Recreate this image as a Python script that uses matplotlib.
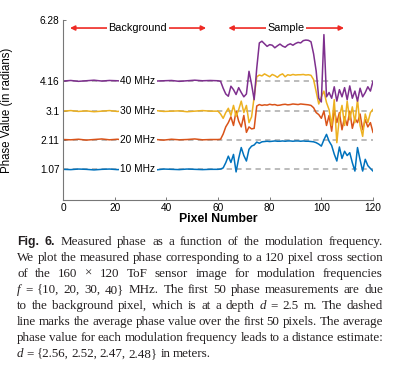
import matplotlib
matplotlib.use('Agg')
import matplotlib.pyplot as plt
import numpy as np

# pixel positions: every 3rd pixel over the flat background, then every pixel
pixels = list(range(0, 61, 3)) + list(range(61, 121))

phase_40 = [4.15, 4.17, 4.14, 4.16, 4.18, 4.15, 4.17, 4.16, 4.14, 4.17, 4.16,
            4.18, 4.15, 4.16, 4.17, 4.14, 4.16, 4.18, 4.16, 4.17, 4.16,
            4.14, 3.90, 3.70, 3.62, 3.97, 3.85, 3.68, 3.92, 3.75, 3.60,
            3.70, 4.49, 4.03, 3.50, 4.60, 5.48, 5.54, 5.45, 5.36, 5.42,
            5.40, 5.31, 5.38, 5.44, 5.37, 5.33, 5.41, 5.45, 5.40, 5.46,
            5.50, 5.48, 5.56, 5.58, 5.57, 5.52, 5.10, 4.50, 3.55, 3.42,
            5.77, 3.60, 3.75, 3.55, 3.95, 3.45, 3.85, 3.60, 3.92, 3.50,
            3.98, 3.55, 3.80, 3.45, 3.90, 3.60, 3.75, 3.95, 3.80, 4.14]
phase_30 = [3.10, 3.12, 3.09, 3.11, 3.08, 3.10, 3.12, 3.09, 3.11, 3.10, 3.08,
            3.11, 3.12, 3.09, 3.10, 3.11, 3.08, 3.10, 3.12, 3.10, 3.10,
            3.00, 2.85, 3.05, 3.20, 2.95, 3.30, 2.92, 3.15, 3.45, 3.05,
            3.30, 2.70, 2.90, 3.60, 4.30, 4.36, 4.33, 4.40, 4.35, 4.30,
            4.38, 4.34, 4.28, 4.36, 4.40, 4.30, 4.37, 4.35, 4.38, 4.36,
            4.37, 4.37, 4.38, 4.36, 4.37, 4.35, 4.20, 3.78, 3.35, 3.60,
            3.80, 3.40, 3.15, 2.60, 3.50, 2.00, 2.90, 3.30, 2.60, 3.45,
            2.80, 3.25, 2.70, 3.50, 2.60, 2.22, 3.00, 2.70, 3.05, 3.16]
phase_20 = [2.11, 2.10, 2.12, 2.09, 2.11, 2.13, 2.10, 2.12, 2.09, 2.11, 2.10,
            2.12, 2.11, 2.09, 2.12, 2.10, 2.11, 2.13, 2.10, 2.11, 2.11,
            2.12, 2.30, 2.55, 2.70, 2.90, 2.60, 3.10, 2.75, 2.55, 2.95,
            2.36, 2.55, 2.48, 2.50, 3.28, 3.33, 3.30, 3.32, 3.31, 3.34,
            3.32, 3.33, 3.30, 3.31, 3.33, 3.34, 3.32, 3.33, 3.35, 3.34,
            3.33, 3.35, 3.34, 3.33, 3.32, 3.30, 3.22, 3.05, 2.98, 2.85,
            3.10, 2.60, 2.95, 2.40, 3.15, 2.70, 3.05, 2.45, 2.90, 2.60,
            3.10, 2.50, 2.85, 2.70, 3.00, 2.45, 2.80, 2.55, 2.70, 2.36]
phase_10 = [1.07, 1.06, 1.08, 1.07, 1.05, 1.07, 1.08, 1.06, 1.07, 1.08, 1.06,
            1.07, 1.05, 1.08, 1.07, 1.06, 1.08, 1.07, 1.06, 1.07, 1.07,
            1.08, 1.12, 1.30, 1.53, 1.31, 1.59, 0.98, 1.45, 1.83, 1.55,
            1.36, 1.77, 1.88, 1.92, 2.02, 1.98, 2.03, 2.04, 2.05, 2.04,
            2.05, 2.06, 2.05, 2.05, 2.06, 2.05, 2.06, 2.06, 2.05, 2.06,
            2.06, 2.05, 2.06, 2.05, 2.05, 2.04, 2.03, 2.00, 1.95, 1.88,
            2.10, 2.29, 2.05, 1.90, 1.60, 1.36, 1.85, 1.45, 1.70, 1.55,
            1.65, 1.30, 1.01, 1.83, 1.40, 1.01, 1.42, 1.20, 1.10, 1.01]

freq_labels = ['10 MHz', '20 MHz', '30 MHz', '40 MHz']
mean_phase = [1.07, 2.11, 3.1, 4.16]
y_ticks = [1.07, 2.11, 3.1, 4.16, 6.28]
x_ticks = [0, 20, 40, 60, 80, 100, 120]
background_span = (2.7, 55.4)
sample_span = (64.0, 108.8)

caption = [
    "#Fig. #6. Measured phase as a function of the modulation frequency.",
    "We plot the measured phase corresponding to a 120 pixel cross section",
    "of the 160 × 120 ToF sensor image for modulation frequencies",
    "*f = {10, 20, 30, 40} MHz. The first 50 phase measurements are due",
    "to the background pixel, which is at a depth *d = 2.5 m. The dashed",
    "line marks the average phase value over the first 50 pixels. The average",
    "phase value for each modulation frequency leads to a distance estimate:",
    "*d = {2.56, 2.52, 2.47, 2.48} in meters.",
]

colors = ['#0072BD', '#D95319', '#EDB120', '#7E2F8E']
series = [phase_10, phase_20, phase_30, phase_40]
sans = 'Liberation Sans'

W, H = 400, 371
fig = plt.figure(figsize=(W / 100, H / 100), dpi=100)
ax = fig.add_axes([63 / W, 1 - 200 / H, 310 / W, 180 / H])

for m in mean_phase:
    ax.plot([0, 120], [m, m], color='#aaaaaa', lw=1.1, ls=(0, (3.5, 2.8)), zorder=1)
for ys, c in zip(series, colors):
    ax.plot(pixels, ys, color=c, lw=1.1, zorder=2)

for lab, m in zip(freq_labels, mean_phase):
    ax.text(29, m, lab, ha='center', va='center', fontsize=7.3, family=sans,
            zorder=3, bbox=dict(fc='white', ec='none', pad=1.2))

red = '#ee2a24'
for (a, b), lab, cx in [(background_span, 'Background', 29), (sample_span, 'Sample', 86.3)]:
    ax.annotate('', xy=(a, 6.0), xytext=(b, 6.0),
                arrowprops=dict(arrowstyle='<|-|>', color=red, lw=1.2,
                                mutation_scale=7, shrinkA=0, shrinkB=0))
    ax.text(cx, 6.0, lab, ha='center', va='center', fontsize=7.8, family=sans,
            zorder=3, bbox=dict(fc='white', ec='none', pad=1.0))

ax.set_xlim(0, 120)
ax.set_ylim(0, 6.28)
ax.set_xticks(x_ticks)
ax.set_yticks(y_ticks)
ax.set_yticklabels([f'{v:g}' for v in y_ticks])
for s in ['top', 'right']:
    ax.spines[s].set_visible(False)
for s in ['left', 'bottom']:
    ax.spines[s].set_color('#777777')
    ax.spines[s].set_linewidth(0.8)
ax.tick_params(direction='in', length=2.5, width=0.7, color='#777777',
               labelsize=7.3, pad=2.5)
for t in ax.get_xticklabels() + ax.get_yticklabels():
    t.set_family(sans)
ax.set_xlabel('Pixel Number', fontsize=8.8, fontweight='bold', family=sans)
ax.xaxis.set_label_coords(0.5, -0.075)
ax.set_ylabel('Phase Value (in radians)', fontsize=8.3, family=sans)
ax.yaxis.set_label_coords(-0.16, 0.5)

# justified caption, placed word by word
renderer = fig.canvas.get_renderer()
x0, x1 = 17, 383
for i, line in enumerate(caption):
    y = 1 - (242 + 16 * i) / H
    arts = []
    for tok in line.split(' '):
        kw = dict(family='Liberation Serif', fontsize=9.4, color='#231f20')
        if tok.startswith('#'):
            tok = tok[1:]
            kw.update(family=sans, fontweight='bold', fontsize=8.8)
        elif tok.startswith('*'):
            tok = tok[1:]
            kw['style'] = 'italic'
        arts.append(fig.text(0, y, tok, va='center', ha='left', **kw))
    widths = [a.get_window_extent(renderer).width for a in arts]
    if i < len(caption) - 1:
        gap = max((x1 - x0 - sum(widths)) / (len(arts) - 1), 1.5)
    else:
        gap = 2.8
    x = x0
    for a, w in zip(arts, widths):
        a.set_x(x / W)
        x += w + gap

fig.savefig('out.png', dpi=100)
